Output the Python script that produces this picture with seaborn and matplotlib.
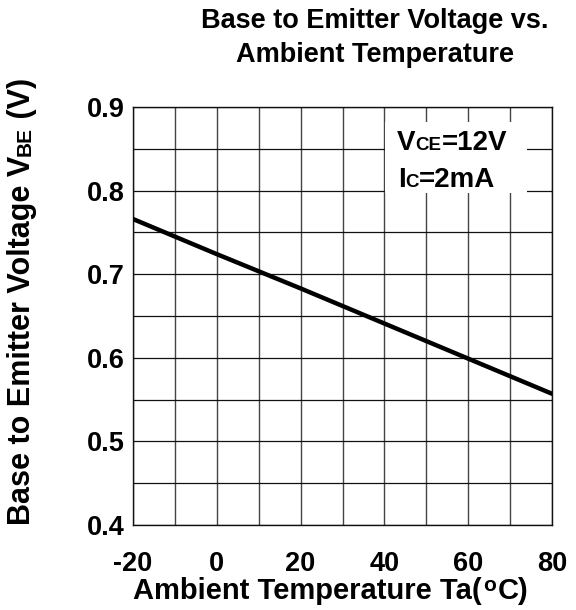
import matplotlib
matplotlib.use("Agg")
import matplotlib.pyplot as plt
import seaborn as sns
import pandas as pd
from matplotlib.patches import Rectangle

# ---- data ----
temperature = [-20, 0, 20, 40, 60, 80]
vbe = [0.766, 0.724, 0.683, 0.641, 0.599, 0.557]
x_ticks = [-20, 0, 20, 40, 60, 80]
y_ticks = [0.4, 0.5, 0.6, 0.7, 0.8, 0.9]
title_lines = ["Base to Emitter Voltage vs.", "Ambient Temperature"]

sns.set_theme(style="white")
plt.rcParams['font.family'] = ['Liberation Sans', 'DejaVu Sans']
plt.rcParams['font.weight'] = 'bold'
for k in ['text.color', 'axes.labelcolor', 'xtick.color', 'ytick.color']:
    plt.rcParams[k] = 'black'

W, H = 576, 610
fig = plt.figure(figsize=(W / 100, H / 100), dpi=100)
ax = fig.add_axes([133 / W, 1 - 525 / H, (552 - 133) / W, (525 - 107) / H])

df = pd.DataFrame({"T": temperature, "V": vbe})
sns.lineplot(data=df, x="T", y="V", ax=ax, color="black", linewidth=3.2, zorder=5)

ax.set_xlim(-20, 80)
ax.set_ylim(0.4, 0.9)
ax.set_xticks(x_ticks)
ax.set_yticks(y_ticks)
ax.set_xticks(range(-20, 81, 10), minor=True)
ax.set_yticks([0.4 + 0.05 * i for i in range(11)], minor=True)
ax.xaxis.grid(True, which="both", color="#444444", linewidth=1.0)
ax.yaxis.grid(True, which="both", color="#111111", linewidth=0.9)
ax.tick_params(which="both", length=0)
ax.tick_params(axis="x", labelsize=19.5, pad=19)
ax.tick_params(axis="y", labelsize=19.5, pad=6)
ax.set_xticklabels([f"{t:d}" for t in x_ticks], fontweight="bold")
ax.set_yticklabels([f"{t:.1f}" for t in y_ticks], fontweight="bold")
ax.set_xlabel("")
ax.set_ylabel("")
for s in ax.spines.values():
    s.set_color("#111111")
    s.set_linewidth(1.0)

# white box behind annotation
ax.add_patch(Rectangle((40.1, 0.797), 34.0, 0.085, facecolor="white",
                       edgecolor="none", zorder=3))

def chain(prev, txt, size, dy=0):
    return ax.annotate(txt, xy=(1, 0), xycoords=prev, xytext=(0, dy),
                       textcoords="offset points", fontsize=size,
                       fontweight="bold", ha="left", va="bottom",
                       annotation_clip=False, zorder=6)

big, small = 20, 13.5
t = ax.text(43.0, 0.8486, "V", fontsize=big, fontweight="bold", va="baseline", zorder=6)
t = chain(t, "CE", small, 1.4)
chain(t, "=12V", big, -1.4)
t = ax.text(43.2, 0.8043, "I", fontsize=big, fontweight="bold", va="baseline", zorder=6)
t = chain(t, "C", small, 1.4)
chain(t, "=2mA", big, -1.4)

# title
fig.text(375 / W, 1 - 28 / H, title_lines[0], ha="center", va="baseline",
         fontsize=19.5, fontweight="bold")
fig.text(375 / W, 1 - 62 / H, title_lines[1], ha="center", va="baseline",
         fontsize=19.5, fontweight="bold")

# x label
xl = fig.text(133 / W, 1 - 599 / H, "Ambient Temperature Ta(", ha="left",
              va="baseline", fontsize=21, fontweight="bold")
ax.annotate("o", xy=(1, 1), xycoords=xl, xytext=(0.8, 0.5), textcoords="offset points",
            fontsize=15, fontweight="bold", ha="left", va="top",
            annotation_clip=False)
ax.annotate("C)", xy=(1, 0), xycoords=xl, xytext=(11.5, 0), textcoords="offset points",
            fontsize=21, fontweight="bold", ha="left", va="bottom",
            annotation_clip=False)

# y label
yl = fig.text(37 / W, 1 - 525 / H, "Base to Emitter Voltage V", rotation=90,
              ha="right", va="bottom", fontsize=22, fontweight="bold")
def vchain(prev, txt, size, dx=0):
    return ax.annotate(txt, xy=(1, 1), xycoords=prev, xytext=(dx, 0),
                       textcoords="offset points", fontsize=size, rotation=90,
                       fontweight="bold", ha="right", va="bottom",
                       annotation_clip=False)
yb = vchain(yl, "BE", 15, -1.6)
vchain(yb, " (V)", 22, 1.6)

fig.savefig("out.png", dpi=100)
